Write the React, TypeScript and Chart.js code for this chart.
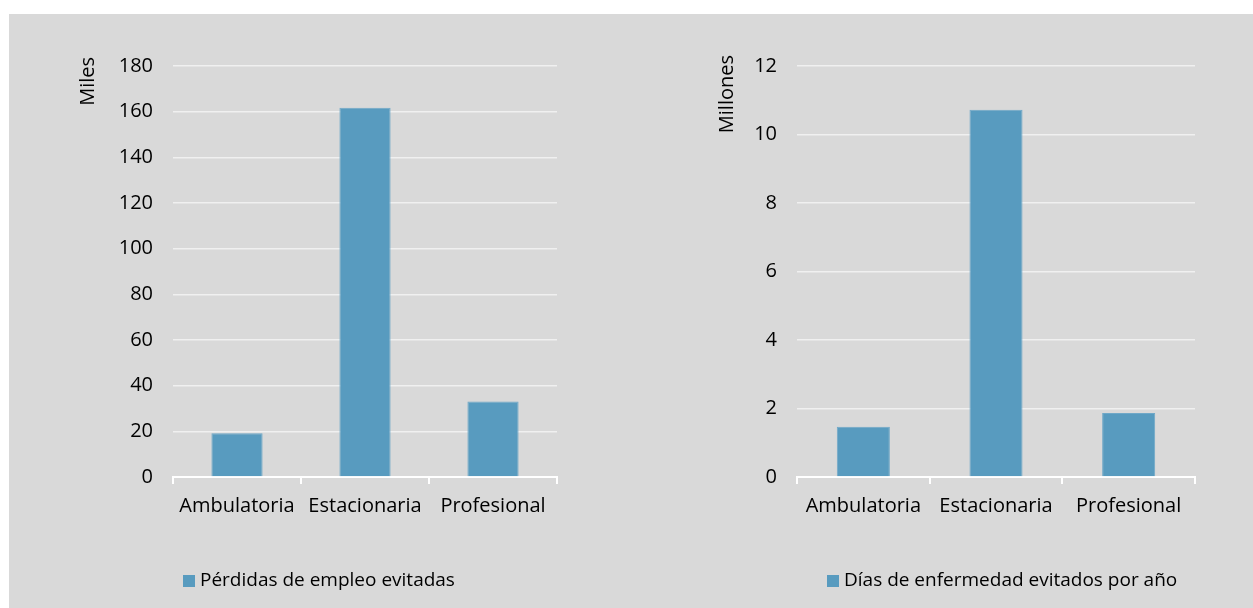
import React, { useEffect, useRef } from 'react';
import { Chart, registerables } from 'chart.js';

Chart.register(...registerables);

// Categories shared by both panels
const categories = ['Ambulatoria', 'Estacionaria', 'Profesional'];

// Left panel: job losses avoided (thousands)
const empleoLabel = 'Pérdidas de empleo evitadas';
const empleoUnit = 'Miles';
const empleoValues = [19.2, 161.7, 33.1];
const empleoMax = 180;
const empleoStep = 20;

// Right panel: sick days avoided per year (millions)
const diasLabel = 'Días de enfermedad evitados por año';
const diasUnit = 'Millones';
const diasValues = [1.47, 10.72, 1.87];
const diasMax = 12;
const diasStep = 2;

const BAR = '#589bbf';
const BAR_EDGE = '#6fa8c8';
const PANEL = '#d9d9d9';
const FONT = "'Open Sans', 'Noto Sans', sans-serif";

Chart.defaults.font.family = FONT;
Chart.defaults.color = '#000';

// Draws the rotated unit title beside the y axis and a one-item legend under the plot.
const panelText = {
  id: 'panelText',
  afterDraw(chart: any, _args: any, opts: any) {
    const { ctx, chartArea } = chart;
    ctx.save();
    ctx.fillStyle = '#000';
    ctx.font = `20px ${FONT}`;
    ctx.translate(chartArea.left - opts.titleGap, chartArea.top - opts.titleRise);
    ctx.rotate(-Math.PI / 2);
    ctx.textAlign = 'right';
    ctx.textBaseline = 'middle';
    ctx.fillText(opts.title, 0, 0);
    ctx.restore();

    const ds = chart.data.datasets[0];
    const x = chartArea.left + opts.legendIndent;
    const y = opts.legendY;
    ctx.save();
    ctx.fillStyle = ds.backgroundColor;
    ctx.fillRect(x, y - 6, 12, 12);
    ctx.fillStyle = '#000';
    ctx.font = `19px ${FONT}`;
    ctx.textAlign = 'left';
    ctx.textBaseline = 'middle';
    ctx.fillText(ds.label, x + 17, y);
    ctx.restore();
  },
};

type PanelSpec = {
  label: string;
  unit: string;
  values: number[];
  max: number;
  step: number;
  axisWidth: number;
  padRight: number;
  titleGap: number;
  titleRise: number;
  legendIndent: number;
};

function makeConfig(p: PanelSpec): any {
  return {
    type: 'bar',
    data: {
      labels: categories,
      datasets: [
        {
          label: p.label,
          data: p.values,
          backgroundColor: BAR,
          borderColor: BAR_EDGE,
          borderWidth: 1,
          categoryPercentage: 1,
          barPercentage: 0.4,
        },
      ],
    },
    options: {
      responsive: false,
      animation: false,
      layout: { padding: { top: 52, right: p.padRight, bottom: 86, left: 0 } },
      plugins: {
        legend: { display: false },
        tooltip: { enabled: false },
        panelText: {
          title: p.unit,
          titleGap: p.titleGap,
          titleRise: p.titleRise,
          legendIndent: p.legendIndent,
          legendY: 567,
        },
      },
      scales: {
        x: {
          grid: { drawOnChartArea: false, color: '#ffffff', lineWidth: 2, tickLength: 7 },
          border: { color: '#ffffff', width: 2 },
          ticks: { color: '#000', font: { size: 20 }, padding: 10, maxRotation: 0 },
          afterFit: (s: any) => {
            s.height = 45;
          },
        },
        y: {
          min: 0,
          max: p.max,
          ticks: { stepSize: p.step, color: '#000', font: { size: 20 }, padding: 20 },
          grid: { color: '#f0f0f0', lineWidth: 1.5, drawTicks: false },
          border: { display: false },
          afterFit: (s: any) => {
            s.width = p.axisWidth;
          },
        },
      },
    },
    plugins: [panelText],
  };
}

function Panel({ spec }: { spec: PanelSpec }) {
  const ref = useRef<HTMLCanvasElement | null>(null);
  useEffect(() => {
    if (!ref.current) return;
    const chart = new Chart(ref.current, makeConfig(spec));
    return () => chart.destroy();
  }, [spec]);
  return <canvas ref={ref} width={622} height={594} style={{ display: 'block' }} />;
}

const empleoSpec: PanelSpec = {
  label: empleoLabel,
  unit: empleoUnit,
  values: empleoValues,
  max: empleoMax,
  step: empleoStep,
  axisWidth: 164,
  padRight: 74,
  titleGap: 85,
  titleRise: 9,
  legendIndent: 10,
};

const diasSpec: PanelSpec = {
  label: diasLabel,
  unit: diasUnit,
  values: diasValues,
  max: diasMax,
  step: diasStep,
  axisWidth: 166,
  padRight: 58,
  titleGap: 70,
  titleRise: 11,
  legendIndent: 30,
};

export default function App() {
  return (
    <div
      style={{
        position: 'fixed',
        left: 9,
        top: 14,
        width: 1244,
        height: 594,
        background: PANEL,
        display: 'flex',
      }}
    >
      <Panel spec={empleoSpec} />
      <Panel spec={diasSpec} />
    </div>
  );
}
